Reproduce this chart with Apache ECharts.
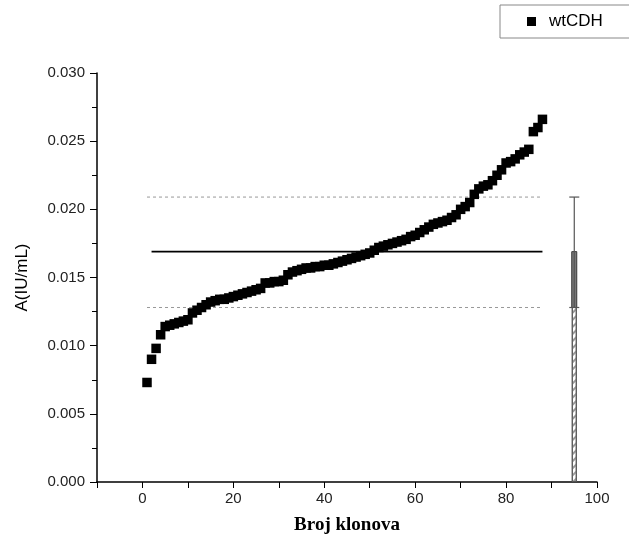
<!DOCTYPE html>
<html>
<head>
<meta charset="utf-8">
<script src="https://cdn.jsdelivr.net/npm/echarts@6/dist/echarts.min.js"></script>
<style>
  html, body { margin: 0; padding: 0; background: #fff; }
  #main { width: 629px; height: 543px; }
</style>
</head>
<body>
<div id="main"></div>
<script>
// clone index (Broj klonova) 1..88, sorted activity values A (IU/mL)
const clones = [];
for (let i = 1; i <= 88; i++) clones.push(i);
const activity = [
  0.0073, 0.0090, 0.0098, 0.0108, 0.0114, 0.0115, 0.0116, 0.0117, 0.0118, 0.0119,
  0.0124, 0.0126, 0.0128, 0.0130, 0.0132, 0.0133, 0.0134, 0.0134, 0.0135, 0.0136,
  0.0137, 0.0138, 0.0139, 0.0140, 0.0141, 0.0142, 0.0146, 0.0146, 0.0147, 0.0147,
  0.0148, 0.0152, 0.0154, 0.0155, 0.0156, 0.0157, 0.0157, 0.0158, 0.0158, 0.0159,
  0.0159, 0.0160, 0.0161, 0.0162, 0.0163, 0.0164, 0.0165, 0.0166, 0.0167, 0.0168,
  0.0170, 0.0172, 0.0173, 0.0174, 0.0175, 0.0176, 0.0177, 0.0178, 0.0180, 0.0181,
  0.0183, 0.0185, 0.0187, 0.0189, 0.0190, 0.0191, 0.0192, 0.0194, 0.0196, 0.0200,
  0.0202, 0.0205, 0.0211, 0.0215, 0.0217, 0.0218, 0.0221, 0.0225, 0.0229, 0.0234,
  0.0235, 0.0237, 0.0240, 0.0242, 0.0244, 0.0257, 0.0260, 0.0266
];

// summary: mean +- SD, drawn as lines and as a bar with error bar at x=95
const meanValue = 0.0169;
const sdUpper = 0.0209;
const sdLower = 0.0128;
const meanLineX = [2, 88];
const sdLineX = [1, 88];
const summaryX = 95;

const xTickLabels = [0, 20, 40, 60, 80, 100];

const chart = echarts.init(document.getElementById('main'));

const points = clones.map((c, i) => [c, activity[i]]);

chart.setOption({
  animation: false,
  backgroundColor: '#fff',
  grid: { left: 97, right: 32, top: 73, bottom: 61 },
  legend: {
    data: [{ name: 'wtCDH', icon: 'rect' }],
    left: 500, top: 5,
    borderColor: '#888', borderWidth: 1,
    padding: [8, 50, 8, 27],
    itemWidth: 9, itemHeight: 9, itemGap: 10,
    textStyle: { fontFamily: 'Liberation Sans, Arial', fontSize: 17, color: '#000', padding: [0, 0, 0, 8] }
  },
  xAxis: {
    type: 'value',
    min: -10, max: 100, interval: 10,
    name: 'Broj klonova',
    nameLocation: 'middle',
    nameGap: 34,
    nameTextStyle: { fontFamily: 'Liberation Serif, DejaVu Serif, serif', fontWeight: 'bold', fontSize: 19, color: '#000' },
    axisLine: { onZero: false, lineStyle: { color: '#000', width: 1.5 } },
    axisTick: { length: 6, lineStyle: { color: '#000' } },
    axisLabel: {
      fontFamily: 'Liberation Sans, Arial', fontSize: 15, color: '#222', margin: 9,
      formatter: v => (xTickLabels.indexOf(v) >= 0 ? String(v) : '')
    },
    splitLine: { show: false }
  },
  yAxis: {
    type: 'value',
    min: 0, max: 0.03, interval: 0.005,
    name: 'A(IU/mL)',
    nameLocation: 'middle',
    nameGap: 66,
    nameTextStyle: { fontFamily: 'Liberation Sans, Arial', fontSize: 17, color: '#000' },
    axisLine: { show: true, onZero: false, lineStyle: { color: '#000', width: 1.5 } },
    axisTick: { length: 7, lineStyle: { color: '#000' } },
    minorTick: { show: true, splitNumber: 2, length: 5, lineStyle: { color: '#000' } },
    axisLabel: {
      fontFamily: 'Liberation Sans, Arial', fontSize: 15, color: '#222', margin: 12,
      formatter: v => v.toFixed(3)
    },
    splitLine: { show: false }
  },
  series: [
    {
      name: 'sd-upper', type: 'line', symbol: 'none', silent: true,
      data: [[sdLineX[0], sdUpper], [sdLineX[1], sdUpper]],
      lineStyle: { color: '#999', width: 1, type: [3, 3] }, z: 1
    },
    {
      name: 'sd-lower', type: 'line', symbol: 'none', silent: true,
      data: [[sdLineX[0], sdLower], [sdLineX[1], sdLower]],
      lineStyle: { color: '#999', width: 1, type: [3, 3] }, z: 1
    },
    {
      name: 'mean', type: 'line', symbol: 'none', silent: true,
      data: [[meanLineX[0], meanValue], [meanLineX[1], meanValue]],
      lineStyle: { color: '#000', width: 1.8 }, z: 1
    },
    {
      name: 'summary-bar', type: 'bar', barWidth: 5, silent: true,
      data: [[summaryX, meanValue]],
      itemStyle: {
        color: '#fff', borderColor: '#555', borderWidth: 1,
        decal: { symbol: 'rect', dashArrayX: [1, 0], dashArrayY: [2, 3], rotation: -Math.PI / 4, color: '#999' }
      },
      z: 2
    },
    {
      name: 'summary-err', type: 'custom', silent: true,
      data: [[summaryX, sdLower, sdUpper, meanValue]],
      renderItem: (params, api) => {
        const lo = api.coord([api.value(0), api.value(1)]);
        const hi = api.coord([api.value(0), api.value(2)]);
        const mid = api.coord([api.value(0), api.value(3)]);
        const w = 5;
        const style = { stroke: '#555', lineWidth: 1.2 };
        return {
          type: 'group',
          children: [
            { type: 'rect', shape: { x: lo[0] - 2.5, y: mid[1], width: 5, height: lo[1] - mid[1] }, style: { fill: '#777', stroke: '#444', lineWidth: 1 } },
            { type: 'line', shape: { x1: lo[0], y1: lo[1], x2: hi[0], y2: hi[1] }, style },
            { type: 'line', shape: { x1: hi[0] - w, y1: hi[1], x2: hi[0] + w, y2: hi[1] }, style },
            { type: 'line', shape: { x1: lo[0] - w, y1: lo[1], x2: lo[0] + w, y2: lo[1] }, style }
          ]
        };
      },
      z: 3
    },
    {
      name: 'wtCDH', type: 'scatter', symbol: 'rect', symbolSize: 9.5,
      data: points,
      itemStyle: { color: '#000', opacity: 1 }, z: 4
    }
  ]
});
</script>
</body>
</html>
